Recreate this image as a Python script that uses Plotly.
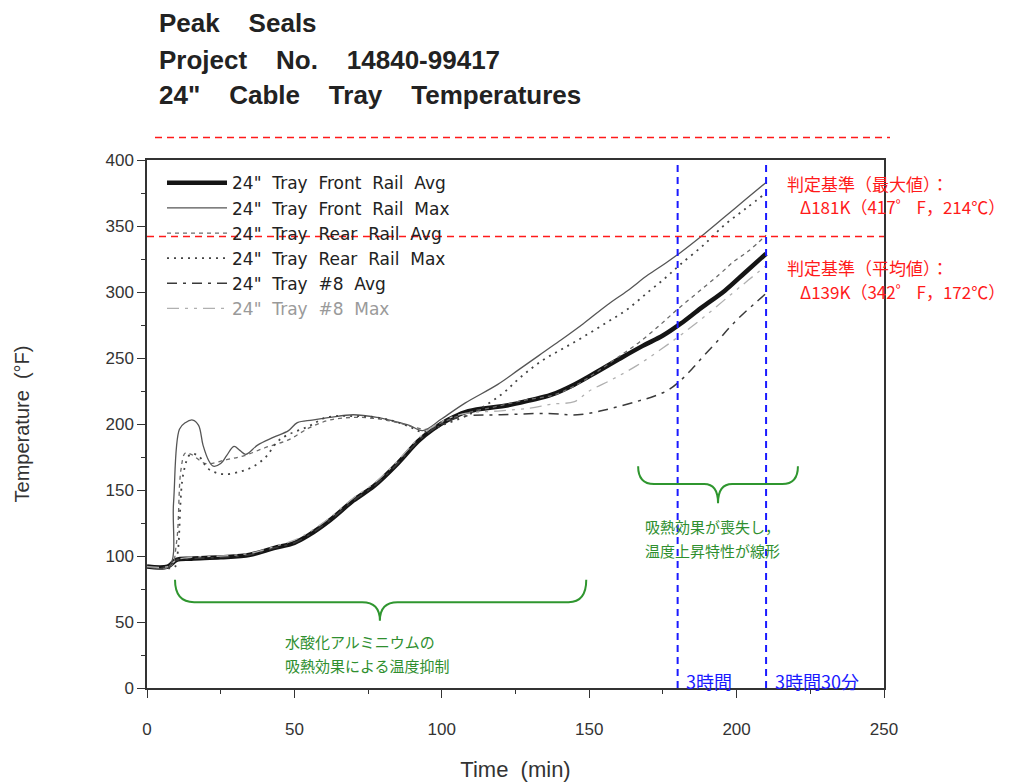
import plotly.graph_objects as go

# ---------------- data ----------------
front_avg_t = [0, 7, 10, 15, 25, 35, 43, 50, 55, 62, 70, 77, 85, 92, 97, 102, 108, 115, 122,
               130, 137, 145, 153, 160, 168, 175, 181, 188, 196, 203, 210]
front_avg = [92, 92, 97, 98, 99, 101, 106, 110, 116, 127, 142, 153, 170, 187, 196, 203, 209, 212, 214,
             218, 222, 230, 240, 249, 259, 267, 276, 288, 301, 315, 329]

front_max_t = [0, 7.5, 9, 11, 13, 15.5, 17.5, 19, 21, 22.5, 25, 27, 29.5, 31.5, 33.5, 37.5, 43, 48, 51,
               56, 62, 70, 78, 84, 89, 93.5, 100, 108, 119, 126, 133, 140, 148, 156, 163, 170, 176,
               181, 189, 196, 203, 210]
front_max = [92, 92, 140, 196, 201, 203, 199, 184, 172, 168, 170, 176, 183, 180, 177, 184, 190, 195, 201,
             203, 205, 207, 205, 202, 199, 195, 204, 216, 230, 241, 252, 263, 276, 290, 301, 313, 322,
             330, 344, 357, 370, 383]

rear_avg_t = [0, 8, 10, 11.5, 13, 15, 20, 27, 33, 40, 48, 55, 62, 70, 78, 85, 90, 95, 100, 108, 118,
              128, 138, 146, 153, 160, 167, 174, 180, 187, 194, 199, 204, 210]
rear_avg = [92, 92, 110, 165, 178, 177, 170, 173, 176, 182, 188, 197, 203, 205, 204, 201, 198, 196, 201,
            208, 213, 218, 222, 230, 240, 251, 262, 275, 287, 300, 313, 323, 331, 343]

rear_max_t = [0, 9.5, 10.5, 12.3, 14.7, 17.4, 20.8, 25.6, 31.7, 36.2, 40.3, 44, 47, 54.6, 61, 70, 78,
              84, 89, 93.5, 100, 110, 120, 127, 134, 141, 148, 156, 163, 170, 176, 181, 189, 196, 203, 210]
rear_max = [92, 92, 104, 162, 177, 176, 166, 162, 164, 168, 175, 186, 191, 198, 205, 206, 205,
            202, 198, 194, 199, 208, 222, 236, 248, 257, 266, 277, 287, 300, 311, 321, 336, 351, 363, 375]

tray8_avg_t = [0, 7, 10, 15, 25, 35, 43, 50, 55, 62, 70, 77, 85, 92, 97, 102, 108, 120, 136, 146, 156,
               166, 172, 177, 181, 185, 189, 194, 198, 202, 206, 210]
tray8_avg = [92, 92, 97, 98, 99, 101, 106, 110, 116, 127, 142, 153, 170, 187, 196, 202, 206, 207, 208,
             207, 211, 217, 221, 226, 233, 242, 252, 264, 274, 283, 291, 299]

tray8_max_t = [0, 7, 10, 15, 25, 35, 43, 50, 55, 62, 70, 77, 85, 92, 97, 102, 108, 120, 130, 137, 145,
               150, 158, 166, 174, 182, 190, 198, 204, 210]
tray8_max = [92, 92, 97, 99, 100, 102, 107, 112, 118, 129, 144, 155, 172, 189, 198, 204, 208, 210, 212,
             215, 217, 225, 234, 244, 256, 269, 283, 298, 309, 320]

series_names = ['24"  Tray  Front  Rail  Avg', '24"  Tray  Front  Rail  Max',
                '24"  Tray  Rear  Rail  Avg', '24"  Tray  Rear  Rail  Max',
                '24"  Tray  #8  Avg', '24"  Tray  #8  Max']

x_tickvals = [0, 50, 100, 150, 200, 250]
y_tickvals = [0, 50, 100, 150, 200, 250, 300, 350, 400]

title_lines = ['Peak    Seals', 'Project    No.    14840-99417', '24"    Cable    Tray    Temperatures']

criteria_max_F = 417
criteria_avg_F = 342
time_marks = [180, 210]
time_labels = ['3時間', '3時間30分']

# ---------------- figure ----------------
NB = '\u00a0'
def nb(s):
    return s.replace(' ', NB)

# page offset: browser body margin is 8px; plot area spans page x 147..884, y 160..688
FIG_W, FIG_H = 1002, 774
PL, PT = 147 - 8, 160 - 8
PR = FIG_W - (884 - 8)
PB = FIG_H - (688 - 8)
PW, PH = 884 - 147, 688 - 160

def px2paper_x(px):
    return (px - 147) / PW

def py2paper_y(py):
    return (688 - py) / PH

fig = go.Figure()
styles = [
    dict(color='#151515', width=4.5, dash='solid'),
    dict(color='#555555', width=1.3, dash='solid'),
    dict(color='#6a6a6a', width=1.3, dash='4px,4px'),
    dict(color='#444444', width=1.8, dash='2px,5px'),
    dict(color='#3a3a3a', width=1.5, dash='10px,6px,3px,6px'),
    dict(color='#b0b0b0', width=1.3, dash='12px,6px,3px,6px,3px,6px'),
]
data = [(front_avg_t, front_avg), (front_max_t, front_max), (rear_avg_t, rear_avg),
        (rear_max_t, rear_max), (tray8_avg_t, tray8_avg), (tray8_max_t, tray8_max)]
for i, ((t, v), name, st) in enumerate(zip(data, series_names, styles)):
    label = nb(name)
    if i == 5:
        label = "<span style='color:#9a9a9a'>" + label + "</span>"
    fig.add_trace(go.Scatter(x=t, y=v, mode='lines', name=label, line=st,
                             line_shape='spline', hoverinfo='skip'))

axis_common = dict(showline=True, linecolor='#333333', linewidth=1.5, mirror=True,
                   ticks='outside', ticklen=8, tickwidth=1.2, tickcolor='#333333',
                   showgrid=False, zeroline=False, automargin=False,
                   tickfont=dict(family='Liberation Sans', size=17, color='#333333'),
                   minor=dict(dtick=25, ticks='outside', ticklen=4, tickcolor='#333333', tickwidth=1))

fig.update_xaxes(range=[0, 250], tickvals=x_tickvals, ticklabelstandoff=17,
                 title=dict(text='Time  (min)', font=dict(family='Liberation Sans', size=22, color='#333333'),
                            standoff=38), **axis_common)
fig.update_yaxes(range=[0, 400], tickvals=y_tickvals,
                 title=dict(text='Temperature  (°F)', font=dict(family='Liberation Sans', size=20, color='#333333'),
                            standoff=70), **axis_common)

shapes = []
# criteria lines (red dashed)
shapes.append(dict(type='line', xref='paper', yref='paper', x0=px2paper_x(155), x1=px2paper_x(890),
                   y0=criteria_max_F / 400, y1=criteria_max_F / 400,
                   line=dict(color='#ff1a1a', width=1.6, dash='7px,5px')))
shapes.append(dict(type='line', xref='x', yref='y', x0=0, x1=250,
                   y0=criteria_avg_F, y1=criteria_avg_F,
                   line=dict(color='#ff1a1a', width=1.6, dash='7px,5px')))
# time marks (blue dashed)
for tm in time_marks:
    shapes.append(dict(type='line', xref='x', yref='y', x0=tm, x1=tm, y0=0, y1=400,
                       line=dict(color='#1a1aff', width=2, dash='7px,5px')))
# curly braces (green)
brace1 = 'M 9.5,82 Q 9.5,65 16,65 L 73,65 Q 79,65 79,51 Q 79,65 85,65 L 143,65 Q 149,65 149,82'
brace2 = 'M 166.6,168 Q 166.6,154.5 172,154.5 L 189,154.5 Q 193.7,154.5 193.7,140 Q 193.7,154.5 198.5,154.5 L 215.5,154.5 Q 220.8,154.5 220.8,168'
for p in (brace1, brace2):
    shapes.append(dict(type='path', xref='x', yref='y', path=p,
                       line=dict(color='#2f962f', width=2)))

annotations = []
# title
for txt, py in zip(title_lines, [23, 60, 95]):
    annotations.append(dict(text='<b>' + nb(txt) + '</b>', xref='paper', yref='paper',
                            x=px2paper_x(157), y=py2paper_y(py),
                            xanchor='left', yanchor='middle', showarrow=False,
                            font=dict(family='Liberation Sans', size=26, color='#222222')))
cjk = 'Noto Sans CJK JP'
red_texts = [('判定基準（最大値）：', 785, 183), ('Δ181K（417゜ F，214℃）', 798, 206),
             ('判定基準（平均値）：', 785, 267), ('Δ139K（342゜ F，172℃）', 798, 291)]
for txt, px, py in red_texts:
    annotations.append(dict(text=txt, xref='paper', yref='paper', x=px2paper_x(px), y=py2paper_y(py),
                            xanchor='left', yanchor='middle', showarrow=False,
                            font=dict(family=cjk, size=17, color='#ff1a1a')))
green_texts = [('水酸化アルミニウムの', 283, 641), ('吸熱効果による温度抑制', 283, 665),
               ('吸熱効果が喪失し，', 643, 526), ('温度上昇特性が線形', 643, 550)]
for txt, px, py in green_texts:
    annotations.append(dict(text=txt, xref='paper', yref='paper', x=px2paper_x(px), y=py2paper_y(py),
                            xanchor='left', yanchor='middle', align='left', showarrow=False,
                            font=dict(family=cjk, size=15, color='#2f8f2f')))
for tm, lab in zip(time_marks, time_labels):
    annotations.append(dict(text=lab, xref='x', yref='y', x=tm + 2.3, y=5,
                            xanchor='left', yanchor='middle', showarrow=False,
                            font=dict(family=cjk, size=18, color='#1a1aff')))

fig.update_layout(
    width=FIG_W, height=FIG_H,
    margin=dict(l=PL, r=PR, t=PT, b=PB, autoexpand=False),
    paper_bgcolor='white', plot_bgcolor='white',
    shapes=shapes, annotations=annotations,
    showlegend=True,
    legend=dict(x=px2paper_x(162), y=0.99, xanchor='left', yanchor='top', bgcolor='rgba(0,0,0,0)',
                font=dict(family='DejaVu Sans', size=17, color='#222222'),
                tracegroupgap=0, itemwidth=60),
)

fig.write_html('out.html')
